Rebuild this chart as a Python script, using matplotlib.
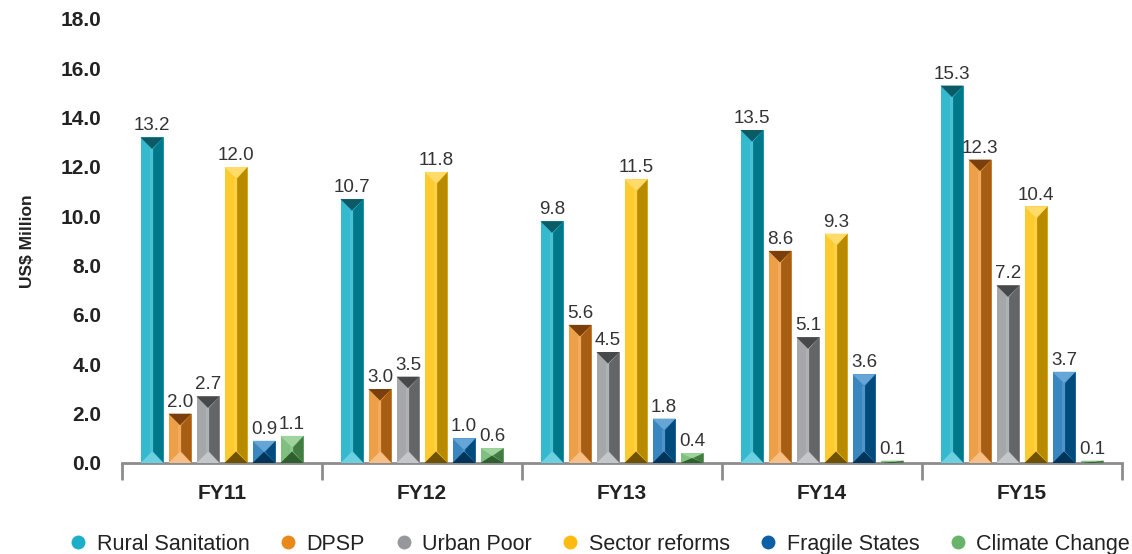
import numpy as np
import matplotlib
matplotlib.use('Agg')
import matplotlib.pyplot as plt
from matplotlib.patches import Polygon
from matplotlib.lines import Line2D

plt.rcParams['font.family'] = ['Liberation Sans', 'DejaVu Sans']

years = ['FY11', 'FY12', 'FY13', 'FY14', 'FY15']
programs = ['Rural Sanitation', 'DPSP', 'Urban Poor', 'Sector reforms',
            'Fragile States', 'Climate Change']

rural_sanitation = [13.2, 10.7, 9.8, 13.5, 15.3]
dpsp = [2.0, 3.0, 5.6, 8.6, 12.3]
urban_poor = [2.7, 3.5, 4.5, 5.1, 7.2]
sector_reforms = [12.0, 11.8, 11.5, 9.3, 10.4]
fragile_states = [0.9, 1.0, 1.8, 3.6, 3.7]
climate_change = [1.1, 0.6, 0.4, 0.1, 0.1]

series = [rural_sanitation, dpsp, urban_poor, sector_reforms,
          fragile_states, climate_change]

# left face, right face, top bevel, bottom bevel, legend dot
shades = [
    ('#34b9cf', '#00788a', '#0b5a66', '#6dd0e0', '#1eafc8'),
    ('#eda048', '#a85d15', '#7a3f0a', '#f5bf85', '#e8891c'),
    ('#a6a7aa', '#646567', '#47484a', '#c5c6c8', '#97989b'),
    ('#fecb2f', '#b88a00', '#ffdb6a', '#6e5200', '#fdbb10'),
    ('#3a86c0', '#004a7c', '#66a6d6', '#003559', '#0d5fa5'),
    ('#7fc07f', '#437b43', '#9fd49f', '#2f5f2f', '#69b36b'),
]

fig = plt.figure(figsize=(11.32, 5.54), dpi=100)
ax = fig.add_axes([122 / 1132, 91 / 554, 1000 / 1132, 444 / 554])
ax.set_xlim(-0.5, 4.5)
ax.set_ylim(0, 18)

x = np.arange(len(years))
step = 0.14
width = 0.115

# data -> pixel scale, used to keep bevels square
p = ax.transData.transform([(0, 0), (1, 1)])
sx, sy = p[1, 0] - p[0, 0], p[1, 1] - p[0, 1]

for i, vals in enumerate(series):
    light, dark, top, bottom, _ = shades[i]
    pos = x + (i - 2.5) * step
    ax.bar(pos, vals, width, color=light, edgecolor='none', zorder=2)
    for xc, v in zip(pos, vals):
        x0, x1 = xc - width / 2, xc + width / 2
        d = min(width / 2 * sx / sy, v / 2)
        xm = xc + width * 0.05
        # thin highlight strip on the left face
        ax.add_patch(Polygon([(xm - width * 0.12, d), (xm, d), (xm, v - d),
                              (xm - width * 0.12, v - d)],
                             closed=True, facecolor='white', alpha=0.12,
                             edgecolor='none', zorder=3))
        ax.add_patch(Polygon([(xm, d), (x1, 0), (x1, v), (xm, v - d)],
                             closed=True, facecolor=dark, edgecolor='none', zorder=3))
        ax.add_patch(Polygon([(x0, v), (x1, v), (xc, v - d)],
                             closed=True, facecolor=top, edgecolor='none', zorder=4))
        ax.add_patch(Polygon([(x0, 0), (x1, 0), (xc, d)],
                             closed=True, facecolor=bottom, edgecolor='none', zorder=4))
        ax.text(xc, v + 0.12, f'{v:.1f}', ha='center', va='bottom',
                fontsize=13.5, color='#333333', zorder=5)

for s in ['top', 'right', 'left']:
    ax.spines[s].set_visible(False)
ax.spines['bottom'].set_color('#8c8c8c')
ax.spines['bottom'].set_linewidth(2)

ax.set_yticks(np.arange(0, 18.1, 2))
ax.set_yticklabels([f'{t:.1f}' for t in np.arange(0, 18.1, 2)],
                   fontsize=15, fontweight='bold', color='#222222')
ax.tick_params(axis='y', length=0, pad=15)

# category labels sit between the boundary ticks
ax.set_xticks(np.arange(-0.5, 4.6, 1))
ax.set_xticklabels([])
ax.tick_params(axis='x', direction='out', length=12, width=2, color='#8c8c8c')
ax.set_xticks(x, minor=True)
ax.set_xticklabels(years, minor=True, fontsize=15, fontweight='bold', color='#222222')
ax.tick_params(axis='x', which='minor', length=0, pad=15)

ax.set_ylabel('US$ Million', fontsize=12.5, fontweight='bold', color='#222222', labelpad=18)

handles = [Line2D([], [], marker='o', linestyle='none', markersize=10,
                  markerfacecolor=c[4], markeredgecolor='none') for c in shades]
fig.legend(handles, programs, loc='lower center', bbox_to_anchor=(0.53, -0.036),
           ncol=6, frameon=False, fontsize=15.5, handlelength=0.8,
           handletextpad=0.45, columnspacing=1.4, labelcolor='#222222')

fig.savefig('out.png', dpi=100)
